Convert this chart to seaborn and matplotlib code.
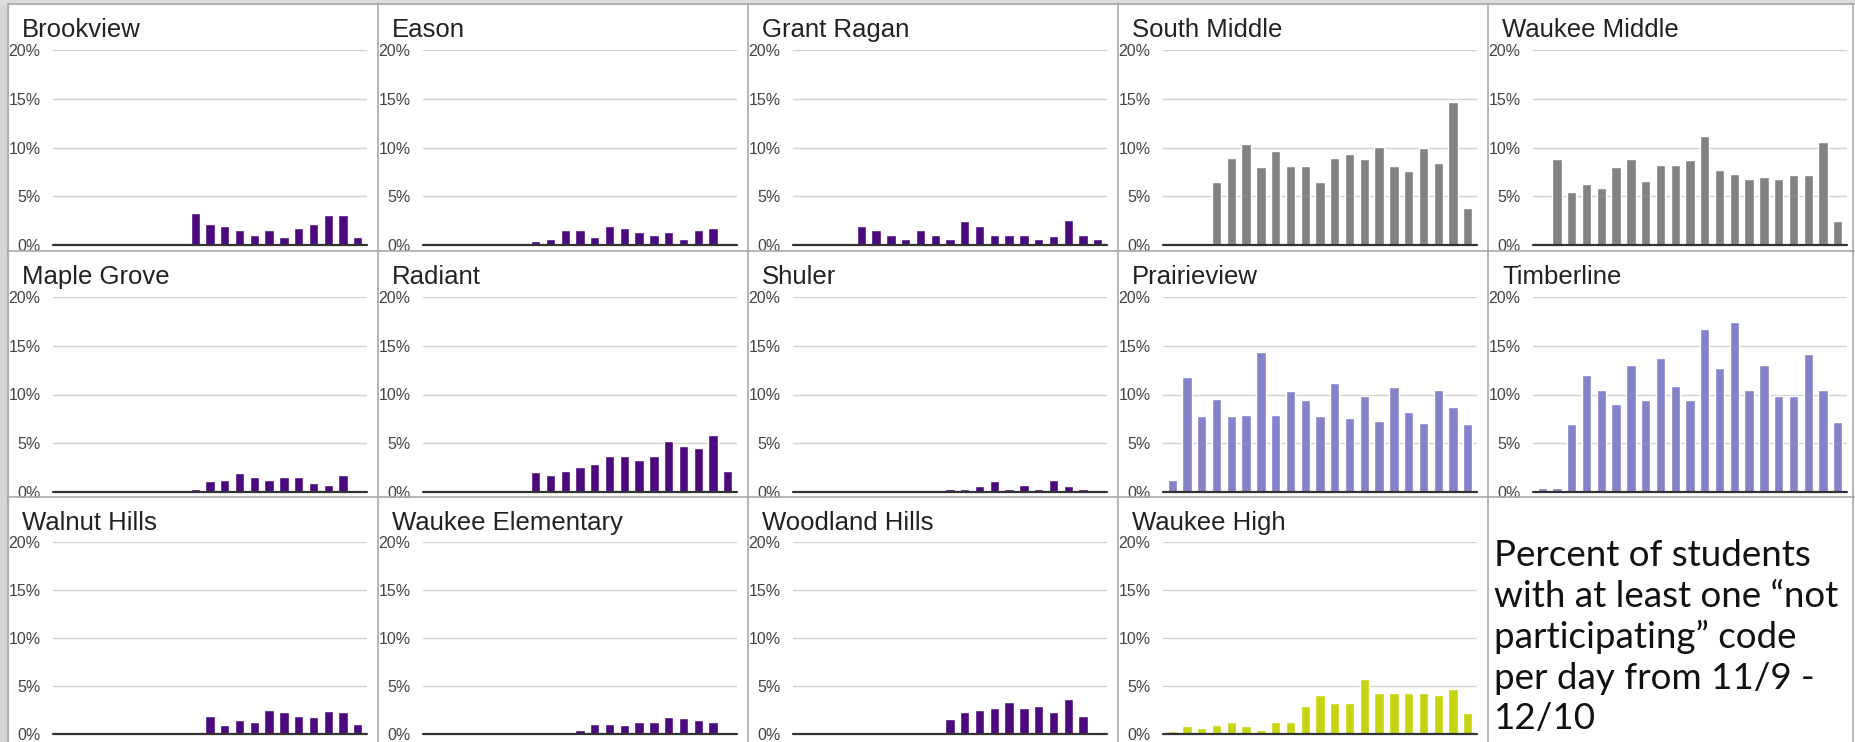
import matplotlib
matplotlib.use("Agg")
import matplotlib.pyplot as plt
import seaborn as sns
import pandas as pd
from matplotlib.lines import Line2D
from matplotlib.patches import Rectangle

# ---------------- data ----------------
days = ["11/9", "11/10", "11/11", "11/12", "11/13", "11/16", "11/17", "11/18", "11/19", "11/20",
        "11/23", "11/24", "11/30", "12/1", "12/2", "12/3", "12/4", "12/7", "12/8", "12/9", "12/10"]

brookview = [0, 0, 0, 0, 0, 0, 0, 0, 0, 3.25, 2.15, 1.9, 1.5, 1.05, 1.5, 0.8, 1.75, 2.15, 3.1, 3.1, 0.8]
eason = [0, 0, 0, 0, 0, 0, 0, 0.4, 0.65, 1.5, 1.5, 0.8, 1.9, 1.75, 1.35, 1.05, 1.35, 0.65, 1.5, 1.75, 0.2]
grant_ragan = [0, 0, 0, 0, 2.0, 1.5, 1.05, 0.65, 1.5, 1.05, 0.65, 2.45, 1.9, 1.05, 1.05, 1.05, 0.65, 0.9, 2.55, 1.05, 0.65]
south_middle = [0, 0.1, 0, 6.5, 8.9, 10.4, 8.0, 9.6, 8.1, 8.1, 6.5, 8.9, 9.35, 8.8, 10.1, 8.1, 7.6, 9.9, 8.4, 14.7, 3.8]
waukee_middle = [0, 8.8, 5.4, 6.3, 5.8, 8.0, 8.8, 6.6, 8.25, 8.25, 8.7, 11.2, 7.7, 7.3, 6.75, 7.0, 6.75, 7.15, 7.15, 10.6, 2.5]
maple_grove = [0, 0, 0, 0, 0, 0, 0, 0, 0, 0.3, 1.1, 1.2, 2.0, 1.5, 1.2, 1.5, 1.5, 0.9, 0.7, 1.7, 0]
radiant = [0, 0, 0, 0, 0, 0.2, 0, 2.1, 1.7, 2.2, 2.6, 2.9, 3.7, 3.7, 3.3, 3.7, 5.2, 4.7, 4.55, 5.8, 2.2]
shuler = [0, 0, 0, 0, 0, 0, 0, 0, 0, 0, 0.3, 0.3, 0.6, 1.1, 0.35, 0.75, 0.35, 1.25, 0.6, 0.35, 0]
prairieview = [1.25, 11.8, 7.75, 9.55, 7.75, 7.9, 14.35, 7.9, 10.35, 9.4, 7.75, 11.2, 7.6, 9.8, 7.3, 10.8, 8.2, 7.05, 10.5, 8.7, 6.95]
timberline = [0.4, 0.4, 6.95, 12.0, 10.5, 9.0, 13.0, 9.4, 13.7, 10.9, 9.4, 16.7, 12.7, 17.4, 10.5, 13.0, 9.8, 9.8, 14.2, 10.5, 7.2]
walnut_hills = [0, 0, 0, 0, 0, 0, 0, 0, 0, 0, 1.85, 0.9, 1.45, 1.2, 2.55, 2.3, 1.85, 1.75, 2.4, 2.3, 1.05]
waukee_elementary = [0, 0, 0, 0, 0, 0, 0, 0, 0, 0, 0.45, 1.05, 1.05, 0.9, 1.2, 1.2, 1.75, 1.65, 1.5, 1.2, 0.2]
woodland_hills = [0, 0, 0, 0, 0, 0, 0, 0, 0, 0, 1.6, 2.3, 2.55, 2.7, 3.35, 2.7, 2.95, 2.3, 3.65, 1.85, 0]
waukee_high = [0.35, 0.8, 0.65, 0.9, 1.2, 0.8, 0.4, 1.2, 1.2, 2.95, 4.05, 3.25, 3.25, 5.7, 4.3, 4.3, 4.3, 4.3, 4.05, 4.7, 2.15]

school_names = [
    ["Brookview", "Eason", "Grant Ragan", "South Middle", "Waukee Middle"],
    ["Maple Grove", "Radiant", "Shuler", "Prairieview", "Timberline"],
    ["Walnut Hills", "Waukee Elementary", "Woodland Hills", "Waukee High"],
]
school_values = [
    [brookview, eason, grant_ragan, south_middle, waukee_middle],
    [maple_grove, radiant, shuler, prairieview, timberline],
    [walnut_hills, waukee_elementary, woodland_hills, waukee_high],
]
DARK = "#4b0a7e"
GREY = "#808284"
LAV = "#8482c9"
LIME = "#c6d50f"
school_colors = [
    [DARK, DARK, DARK, GREY, GREY],
    [DARK, DARK, DARK, LAV, LAV],
    [DARK, DARK, DARK, LIME],
]
yticks = [0, 5, 10, 15, 20]
ytick_labels = ["0%", "5%", "10%", "15%", "20%"]
note_lines = ["Percent of students", "with at least one \u201cnot", "participating\u201d code",
              "per day from 11/9 -", "12/10"]

# ---------------- layout ----------------
sns.set_theme(style="white")
plt.rcParams["font.family"] = ["Liberation Sans", "DejaVu Sans"]

W, H = 1855, 742
fig = plt.figure(figsize=(W / 100, H / 100), dpi=100)
fig.patch.set_facecolor("white")

col_left = [8, 378, 748, 1118, 1488]
row_top = [4, 251, 497]
row_zero = [241, 241, 237]   # offset of the 0% line below the row top
row_top20 = [46, 46, 45]     # offset of the 20% line below the row top

def fx(x):
    return x / W

def fy(y):
    return 1 - y / H

# background strips / borders
fig.patches.append(Rectangle((0, 0), fx(8), 1, transform=fig.transFigure, color="#d6d6d6", zorder=0))
fig.patches.append(Rectangle((0, fy(4)), 1, 4 / H, transform=fig.transFigure, color="#dcdcdc", zorder=0))
border = "#a9a9a9"
for x in col_left + [1853]:
    fig.add_artist(Line2D([fx(x), fx(x)], [fy(4), 0], transform=fig.transFigure, color=border, lw=1.2))
for y in row_top:
    fig.add_artist(Line2D([fx(8), 1], [fy(y), fy(y)], transform=fig.transFigure, color=border, lw=1.2))

for r, (names, vals_row, cols_row) in enumerate(zip(school_names, school_values, school_colors)):
    T = row_top[r]
    z0 = row_zero[r]
    z20 = row_top20[r]
    for c, (name, vals, colr) in enumerate(zip(names, vals_row, cols_row)):
        L = col_left[c]
        ax = fig.add_axes([fx(L + 45), fy(T + z0), 314 / W, (z0 - z20) / H])
        df = pd.DataFrame({"day": days, "pct": vals})
        sns.barplot(data=df, x="day", y="pct", order=days, color=colr, saturation=1,
                    width=0.63, errorbar=None, ax=ax, zorder=3)
        ax.set_xlim(-0.62, 20.62)
        ax.set_ylim(0, 20)
        ax.set_yticks(yticks)
        ax.set_yticklabels(ytick_labels)
        ax.set_xticks([])
        ax.set_xlabel("")
        ax.set_ylabel("")
        ax.set_facecolor("none")
        for s in ax.spines.values():
            s.set_visible(False)
        ax.grid(axis="y", color="#d2d2d2", lw=1.0)
        ax.set_axisbelow(True)
        ax.axhline(0, color="#333333", lw=1.6, zorder=4, clip_on=False)
        ax.tick_params(axis="y", length=0, pad=9, labelsize=11.5, labelcolor="#444444")
        for lab in ax.get_yticklabels():
            lab.set_clip_on(False)
        fig.text(fx(L + 14), fy(T + 33), name, fontsize=18.5, color="#222222",
                 va="baseline", ha="left")

# note text
baselines = [566, 607, 648, 689, 729]
for line, b in zip(note_lines, baselines):
    fig.text(fx(1494), fy(b), line, fontsize=26.5, color="#111111", va="baseline", ha="left",
             family=["Lato", "DejaVu Sans"])

fig.savefig("out.png", dpi=100)
